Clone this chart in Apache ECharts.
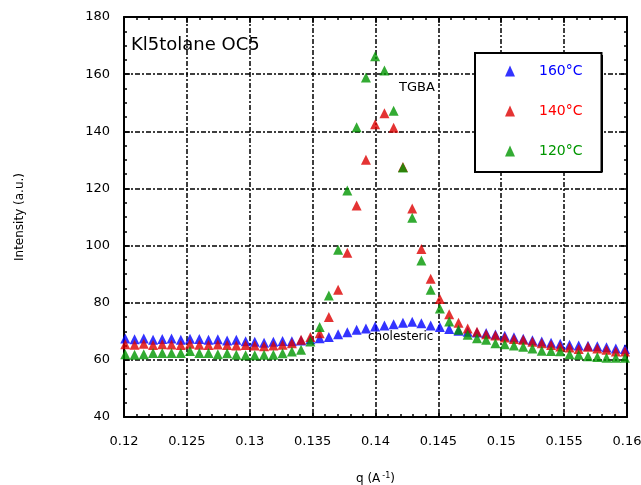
<!DOCTYPE html>
<html>
<head>
<meta charset="utf-8">
<script src="https://cdn.jsdelivr.net/npm/echarts@6/dist/echarts.min.js"></script>
<style>
  html, body { margin: 0; padding: 0; background: #fff; }
  #chart { width: 641px; height: 485px; }
</style>
</head>
<body>
<div id="chart"></div>
<script>
// scattering vector q (A^-1)
const q = [
  0.12010, 0.12084, 0.12157, 0.12231, 0.12304, 0.12378, 0.12452, 0.12525, 0.12599, 0.12672,
  0.12746, 0.12820, 0.12893, 0.12967, 0.13040, 0.13114, 0.13188, 0.13261, 0.13335, 0.13408,
  0.13482, 0.13556, 0.13629, 0.13703, 0.13776, 0.13850, 0.13924, 0.13997, 0.14071, 0.14144,
  0.14218, 0.14292, 0.14365, 0.14439, 0.14512, 0.14586, 0.14660, 0.14733, 0.14807, 0.14880,
  0.14954, 0.15028, 0.15101, 0.15175, 0.15248, 0.15322, 0.15396, 0.15469, 0.15543, 0.15616,
  0.15690, 0.15764, 0.15837, 0.15911, 0.15984
];

const int160 = [
  67.5, 67.2, 67.5, 67.0, 67.3, 67.5, 67.0, 67.4, 67.3, 67.0, 67.2,
  66.8, 67.0, 66.5, 66.3, 66.0, 66.3, 66.6, 66.5, 66.8, 67.2, 67.6,
  68.0, 69.0, 69.7, 70.5, 71.0, 71.7, 72.0, 72.5, 73.0, 73.3, 72.8, 72.0,
  71.5, 70.8, 70.2, 69.8, 69.6, 69.4, 68.9, 68.4, 67.9, 67.4, 66.9,
  66.4, 66.0, 65.6, 65.3, 65.0, 64.9, 64.8, 64.4, 64.0, 63.8
];

const int140 = [
  65.5, 65.3, 65.6, 65.2, 65.5, 65.4, 65.2, 65.6, 65.3, 65.2, 65.4,
  65.2, 65.0, 65.2, 65.0, 64.8, 65.0, 65.3, 65.8, 67.0, 68.0, 69.3,
  75.0, 84.5, 97.5, 114.0, 130.0, 142.5, 146.3, 141.2, 127.5, 113.0, 98.8, 88.4,
  81.3, 76.0, 73.0, 71.0, 69.8, 69.0, 68.5, 67.8, 67.3, 67.0, 66.3,
  65.8, 65.2, 64.7, 64.3, 63.8, 64.6, 64.0, 63.5, 62.9, 62.9
];

const int120 = [
  62.0, 61.8, 62.0, 62.4, 62.4, 62.4, 62.4, 63.1, 62.4, 62.4, 62.0,
  62.3, 61.8, 61.6, 61.6, 61.8, 61.8, 62.3, 62.9, 63.5, 66.4, 71.5,
  82.5, 98.5, 119.3, 141.4, 158.8, 166.3, 161.3, 147.2, 127.3, 109.7, 94.8, 84.5,
  78.0, 73.4, 70.5, 68.8, 67.6, 67.0, 65.8, 65.5, 65.0, 64.6, 64.0,
  63.2, 63.1, 63.0, 62.0, 61.8, 61.3, 61.0, 60.7, 60.7, 60.7
];

const names = ['160°C', '140°C', '120°C'];
const colors = ['#0000ff', '#dd0000', '#009600'];
const textColors = ['#0000ff', '#ff0000', '#009600'];
const values = [int160, int140, int120];

const font = 'DejaVu Sans, Liberation Sans, sans-serif';

// black frame on all four sides, ticks pointing inward
function frame(extra) {
  return Object.assign({
    axisLine: { show: true, onZero: false, lineStyle: { color: '#000', width: 2 } },
    axisTick: { show: true, inside: true, length: 6, lineStyle: { color: '#000', width: 1.5 } },
    minorTick: { show: true, splitNumber: 5, length: 3, lineStyle: { color: '#000', width: 1.5 } },
    splitLine: { show: true, lineStyle: { color: '#000', width: 1.5, type: [5, 2, 2, 2] } }
  }, extra);
}

const yMinor = { show: true, splitNumber: 4, length: 3, lineStyle: { color: '#000', width: 1.5 } };

const chart = echarts.init(document.getElementById('chart'));

chart.setOption({
  animation: false,
  backgroundColor: '#fff',
  grid: { left: 124, right: 14, top: 17, bottom: 68, outerBoundsMode: 'none' },
  xAxis: [frame({
    type: 'value', min: 0.12, max: 0.16, interval: 0.005,
    axisLabel: {
      margin: 18, fontSize: 13, color: '#000', fontFamily: font,
      formatter: v => String(parseFloat(v.toFixed(3)))
    },
    name: 'q (A{sup|-1})', nameLocation: 'middle', nameGap: 55,
    nameTextStyle: {
      fontSize: 12, color: '#000', fontFamily: font,
      rich: { sup: { fontSize: 8, verticalAlign: 'top', padding: [0, 0, 6, 2] } }
    }
  }), frame({
    type: 'value', min: 0.12, max: 0.16, interval: 0.005, position: 'top',
    splitLine: { show: false }, axisLabel: { show: false }
  })],
  yAxis: [frame({
    type: 'value', min: 40, max: 180, interval: 20, minorTick: yMinor,
    axisLabel: { margin: 14, fontSize: 13, color: '#000', fontFamily: font },
    name: 'Intensity (a.u.)', nameLocation: 'middle', nameGap: 98,
    nameTextStyle: { fontSize: 12, color: '#000', fontFamily: font }
  }), frame({
    type: 'value', min: 40, max: 180, interval: 20, position: 'right', minorTick: yMinor,
    splitLine: { show: false }, axisLabel: { show: false }
  })],
  legend: {
    orient: 'vertical', left: 475, top: 53, z: 5,
    padding: [11, 19, 14, 30],
    itemGap: 26, itemWidth: 10, itemHeight: 11,
    backgroundColor: '#fff', borderColor: '#000', borderWidth: 2,
    selectedMode: false,
    formatter: n => '{g|}' + n,
    textStyle: { fontSize: 14, fontFamily: font, rich: { g: { width: 19 } } },
    data: names.map((n, i) => ({
      name: n, icon: 'triangle',
      itemStyle: { color: colors[i] },
      textStyle: { color: textColors[i] }
    }))
  },
  graphic: [
    // offset block behind the legend box, gives the heavy right/bottom edge
    { type: 'rect', left: 477, top: 55, z: 1, shape: { width: 126, height: 117 }, style: { fill: '#000' } },
    { type: 'text', left: 131, top: 36, style: { text: 'Kl5tolane OC5', fontSize: 18, fontFamily: font, fill: '#000' } },
    { type: 'text', left: 399, top: 81, style: { text: 'TGBA', fontSize: 13, fontFamily: font, fill: '#000' } },
    { type: 'text', left: 368, top: 331, style: { text: 'cholesteric', fontSize: 12, fontFamily: font, fill: '#000' } }
  ],
  series: names.map((n, i) => ({
    name: n,
    type: 'scatter',
    symbol: 'triangle',
    symbolSize: [10, 10],
    itemStyle: { color: colors[i] },
    data: q.map((x, j) => [x, values[i][j]])
  }))
});
</script>
</body>
</html>
